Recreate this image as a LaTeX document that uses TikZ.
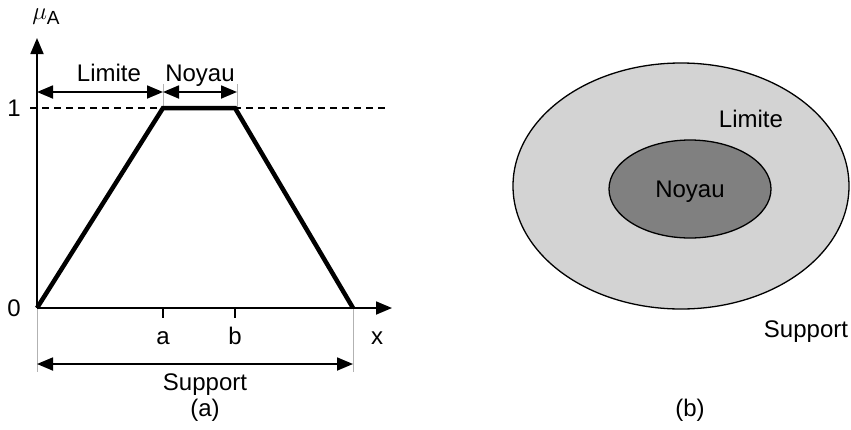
\documentclass[tikz,border=0pt]{standalone}
\usepackage{fontspec}
\setmainfont{Liberation Sans}
\usetikzlibrary{arrows.meta}
\begin{document}
\begin{tikzpicture}[x=1pt,y=-1pt,
  lbl/.style={font=\fontsize{24}{28}\selectfont, inner sep=0pt},
  axis/.style={line width=1.8pt, -{Triangle[length=16pt,width=13pt]}},
  dim/.style={line width=1.8pt, {Triangle[length=16pt,width=13pt]}-{Triangle[length=16pt,width=13pt]}},
  guide/.style={gray!60, line width=1pt},
  curve/.style={line width=4.5pt, line join=miter},
  zone/.style={draw=black, line width=1.3pt}]
\useasboundingbox (0,0) rectangle (851,429);
% coordinates
\coordinate (O) at (37,308);
\coordinate (Ytip) at (37,38);
\coordinate (Xtip) at (392,308);
\coordinate (A1) at (163,108);
\coordinate (B1) at (235,108);
\coordinate (S) at (353,308);
\coordinate (Aax) at (163,308);
\coordinate (Bax) at (235,308);
\coordinate (D0) at (30,108);
\coordinate (D1) at (388,108);
% guides
\draw[guide] (163,84) -- (A1);
\draw[guide] (237,84) -- (237,108);
\draw[guide] (O) -- (37,372);
\draw[guide] (S) -- (353,372);
% dashed line at 1
\draw[dashed, line width=1.2pt, dash pattern=on 7pt off 5pt] (D0) -- (D1);
% axes
\draw[axis] (O) -- (Ytip);
\draw[axis] (O) -- (Xtip);
% ticks
\draw[line width=1.3pt] (Aax) -- ++(0,10);
\draw[line width=1.3pt] (Bax) -- ++(0,10);
% trapezoid
\draw[curve] (O) -- (A1) -- (B1) -- (S);
% dimension arrows
\draw[dim] (37,92) -- (163,92);
\draw[dim] (163,92) -- (237,92);
\draw[dim] (37,364) -- (353,364);
% labels
\node[lbl] (mu) at (46,17) {$\mu$\raisebox{-5pt}{\fontsize{19}{22}\selectfont A}};
\node[lbl] (one) at (14,108) {1};
\node[lbl] (zero) at (14,308) {0};
\node[lbl, anchor=base] (la) at (163,344) {a};
\node[lbl, anchor=base] (lb) at (235,344) {b};
\node[lbl, anchor=base] (lx) at (377,344) {x};
\node[lbl, anchor=base] (lim) at (109,81) {Limite};
\node[lbl, anchor=base] (noy) at (200,81) {Noyau};
\node[lbl, anchor=base] (sup) at (205,390) {Support};
\node[lbl] (capa) at (205,410) {(a)};
% right diagram
\draw[zone, fill={rgb,255:red,211;green,211;blue,211}] (681,186) ellipse [x radius=168, y radius=123];
\draw[zone, fill={rgb,255:red,128;green,128;blue,128}] (690,189) ellipse [x radius=81, y radius=49];
\node[lbl, anchor=base] (lim2) at (751,127) {Limite};
\node[lbl, anchor=base] (noy2) at (690,197) {Noyau};
\node[lbl, anchor=base] (sup2) at (806,337) {Support};
\node[lbl] (capb) at (690,410) {(b)};
\end{tikzpicture}
\end{document}
